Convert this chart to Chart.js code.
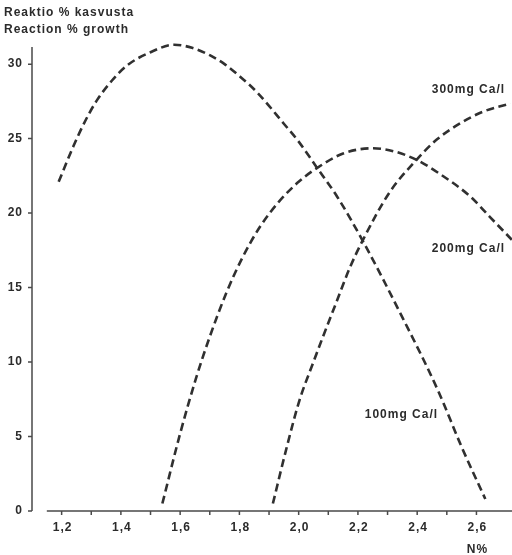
<!DOCTYPE html>
<html>
<head>
<meta charset="utf-8">
<script src="https://cdn.jsdelivr.net/npm/chart.js@4/dist/chart.umd.min.js"></script>
<style>
  html, body { margin: 0; padding: 0; background: #fff; }
  #wrap { width: 512px; height: 555px; position: relative; }
</style>
</head>
<body>
<div id="wrap"><canvas id="c" width="512" height="555"></canvas></div>
<script>
// Nitrogen content (N%) against growth reaction (%), three calcium levels
const n100 = [1.19, 1.24, 1.28, 1.32, 1.37, 1.42, 1.50, 1.58, 1.64, 1.70, 1.75, 1.80, 1.86, 1.95, 2.00, 2.06, 2.13, 2.22, 2.35, 2.47, 2.55, 2.63];
const g100 = [22.1, 24.5, 26.2, 27.6, 28.9, 29.9, 30.8, 31.3, 31.1, 30.6, 30.0, 29.2, 28.1, 26.0, 24.8, 23.1, 21.1, 18.0, 13.0, 8.1, 4.3, 0.8];

const n200 = [1.54, 1.60, 1.655, 1.70, 1.755, 1.81, 1.87, 1.935, 2.00, 2.06, 2.15, 2.25, 2.33, 2.40, 2.475, 2.58, 2.645, 2.72];
const g200 = [0.5, 5.2, 9.0, 11.7, 14.6, 17.0, 19.1, 20.8, 22.1, 23.0, 24.0, 24.35, 24.1, 23.55, 22.65, 21.1, 19.75, 18.2];

const n300 = [1.913, 1.96, 2.003, 2.048, 2.082, 2.127, 2.172, 2.217, 2.307, 2.397, 2.464, 2.543, 2.621, 2.715];
const g300 = [0.5, 4.3, 7.45, 9.9, 11.7, 14.0, 16.3, 18.2, 21.4, 23.56, 24.9, 26.0, 26.8, 27.35];

const seriesNames = ['100mg Ca/l', '200mg Ca/l', '300mg Ca/l'];

const xMajorTicks = [1.2, 1.4, 1.6, 1.8, 2.0, 2.2, 2.4, 2.6];
const xMinorTicks = [1.3, 1.5, 1.7, 1.9, 2.1, 2.3, 2.5];
const yTicks = [0, 5, 10, 15, 20, 25, 30];

const titleLines = ['Reaktio % kasvusta', 'Reaction % growth'];
const xTitle = 'N%';

// where each curve's name is written, in data units (left edge, middle)
const nameAnchors = [
  { x: 2.223, y: 6.45 },
  { x: 2.449, y: 17.6 },
  { x: 2.449, y: 28.3 }
];

const INK = '#2b2b2b';
const LINE = '#303030';
const AXIS = '#4a4a4a';
const FONT = 'bold 12px "Liberation Sans", Arial, Helvetica, sans-serif';

function pts(xs, ys) { return xs.map((x, i) => ({ x: x, y: ys[i] })); }

function curve(xs, ys) {
  return {
    data: pts(xs, ys),
    borderColor: LINE,
    borderWidth: 2.6,
    borderDash: [8, 4.5],
    pointRadius: 0,
    cubicInterpolationMode: 'monotone',
    fill: false,
    clip: false
  };
}

const axesPlugin = {
  id: 'paperAxes',
  afterDatasetsDraw(chart) {
    const ctx = chart.ctx;
    const xs = chart.scales.x, ys = chart.scales.y;
    const y0 = ys.getPixelForValue(0);
    const xLeft = xs.left;
    ctx.save();
    ctx.strokeStyle = AXIS;
    ctx.lineWidth = 1.5;

    // vertical axis with ticks on its left
    ctx.beginPath();
    ctx.moveTo(xLeft, ys.top);
    ctx.lineTo(xLeft, y0);
    yTicks.forEach(v => {
      const p = ys.getPixelForValue(v);
      ctx.moveTo(xLeft - 4, p);
      ctx.lineTo(xLeft, p);
    });
    ctx.stroke();

    // horizontal axis, starting a little right of the vertical one
    ctx.beginPath();
    ctx.moveTo(xs.getPixelForValue(1.15), y0);
    ctx.lineTo(xs.right, y0);
    xMajorTicks.concat(xMinorTicks).forEach(v => {
      const p = xs.getPixelForValue(v);
      ctx.moveTo(p, y0);
      ctx.lineTo(p, y0 + 4);
    });
    ctx.stroke();

    ctx.fillStyle = INK;
    ctx.font = FONT;
    if ('letterSpacing' in ctx) ctx.letterSpacing = '1px';
    ctx.textBaseline = 'middle';

    // y tick labels
    ctx.textAlign = 'right';
    yTicks.forEach(v => {
      ctx.fillText(String(v), xLeft - 9, ys.getPixelForValue(v));
    });

    // x tick labels with decimal comma
    ctx.textAlign = 'center';
    xMajorTicks.forEach(v => {
      ctx.fillText(v.toFixed(1).replace('.', ','), xs.getPixelForValue(v) + 1, y0 + 17);
    });
    ctx.fillText(xTitle, xs.getPixelForValue(2.6) + 1, y0 + 39);

    // heading
    ctx.textAlign = 'left';
    ctx.fillText(titleLines[0], 4, 13);
    ctx.fillText(titleLines[1], 4, 30);

    // curve names
    nameAnchors.forEach((a, i) => {
      ctx.fillText(seriesNames[i], xs.getPixelForValue(a.x), ys.getPixelForValue(a.y));
    });
    ctx.restore();
  }
};

new Chart(document.getElementById('c'), {
  type: 'line',
  data: {
    datasets: [curve(n100, g100), curve(n200, g200), curve(n300, g300)]
  },
  options: {
    responsive: false,
    animation: false,
    layout: { padding: { left: 32, right: 0, top: 47, bottom: 44 } },
    scales: {
      x: { type: 'linear', min: 1.1, max: 2.72, display: false },
      y: { type: 'linear', min: 0, max: 31.15, display: false }
    },
    plugins: { legend: { display: false }, tooltip: { enabled: false } }
  },
  plugins: [axesPlugin]
});
</script>
</body>
</html>
